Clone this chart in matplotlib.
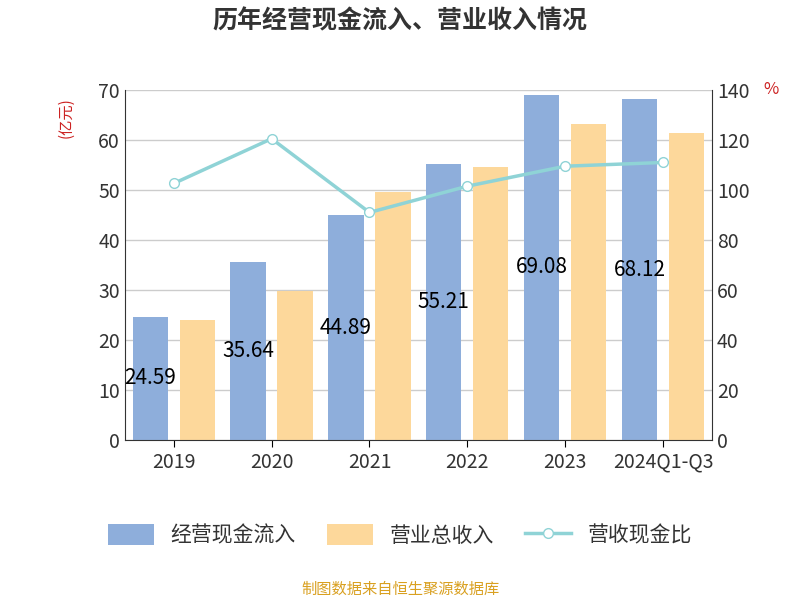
import matplotlib
matplotlib.use("Agg")
import matplotlib.pyplot as plt
import numpy as np

plt.rcParams['font.family'] = ['Noto Sans CJK SC', 'DejaVu Sans']

categories = ["2019", "2020", "2021", "2022", "2023", "2024Q1-Q3"]
cash_in = [24.597, 35.642, 44.898, 55.217, 69.086, 68.122]
revenue = [24.0, 29.8, 49.5, 54.6, 63.2, 61.4]
ratio = [102.6, 120.5, 91.0, 101.5, 109.5, 111.0]
labels = ["24.59", "35.64", "44.89", "55.21", "69.08", "68.12"]

fig = plt.figure(figsize=(8, 6), dpi=100)
ax = fig.add_axes([0.156, 0.267, 0.734, 0.583])
x = np.arange(len(categories))
w = 0.36
ax.bar(x - 0.24, cash_in, w, color='#8eaedb', label='经营现金流入', zorder=2)
ax.bar(x + 0.24, revenue, w, color='#fdd89b', label='营业总收入', zorder=2)
for xi, v, l in zip(x, cash_in, labels):
    ax.text(xi - 0.24, v / 2, l, ha='center', va='center', fontsize=15, color='black', zorder=5)
ax.set_xlim(-0.5, 5.5)
ax.set_ylim(0, 70)
ax.set_yticks(range(0, 71, 10))
ax.grid(axis='y', color='#cccccc', lw=1, zorder=0)
ax.set_xticks(x)
ax.set_xticklabels(categories, fontsize=14, color='#333333')
ax.tick_params(axis='y', labelsize=14, colors='#333333', length=0)
ax.tick_params(axis='x', length=5)
for s in ['top', 'right']:
    ax.spines[s].set_visible(False)
ax.spines['left'].set_color('#333333')
ax.spines['bottom'].set_color('#333333')
ax.text(-0.1, 0.98, '(亿元)', transform=ax.transAxes, rotation=90, color='#cc2222', fontsize=11, ha='center', va='top')

ax2 = ax.twinx()
ax2.plot(x, ratio, color='#8fd3d6', lw=2.5, marker='o', markersize=7, markerfacecolor='white', markeredgecolor='#8fd3d6', label='营收现金比', zorder=3)
ax2.set_ylim(0, 140)
ax2.set_yticks(range(0, 141, 20))
ax2.tick_params(axis='y', labelsize=14, colors='#333333', length=0)
for s in ['top', 'left', 'bottom']:
    ax2.spines[s].set_visible(False)
ax2.spines['right'].set_color('#333333')
ax2.text(1.1, 1.0, '%', transform=ax.transAxes, color='#cc2222', fontsize=12, ha='center', va='center')

h1, l1 = ax.get_legend_handles_labels()
h2, l2 = ax2.get_legend_handles_labels()
fig.legend(h1 + h2, l1 + l2, loc='center', bbox_to_anchor=(0.5, 0.108), ncol=3, frameon=False,
           fontsize=15, handlelength=2.2, handleheight=1.2, columnspacing=1.5, labelcolor='#333333')

fig.text(0.5, 0.965, '历年经营现金流入、营业收入情况', ha='center', va='center', fontsize=18, fontweight='bold', color='#333333')
fig.text(0.5, 0.018, '制图数据来自恒生聚源数据库', ha='center', va='center', fontsize=11, color='#d9a020')
fig.savefig('out.png')
